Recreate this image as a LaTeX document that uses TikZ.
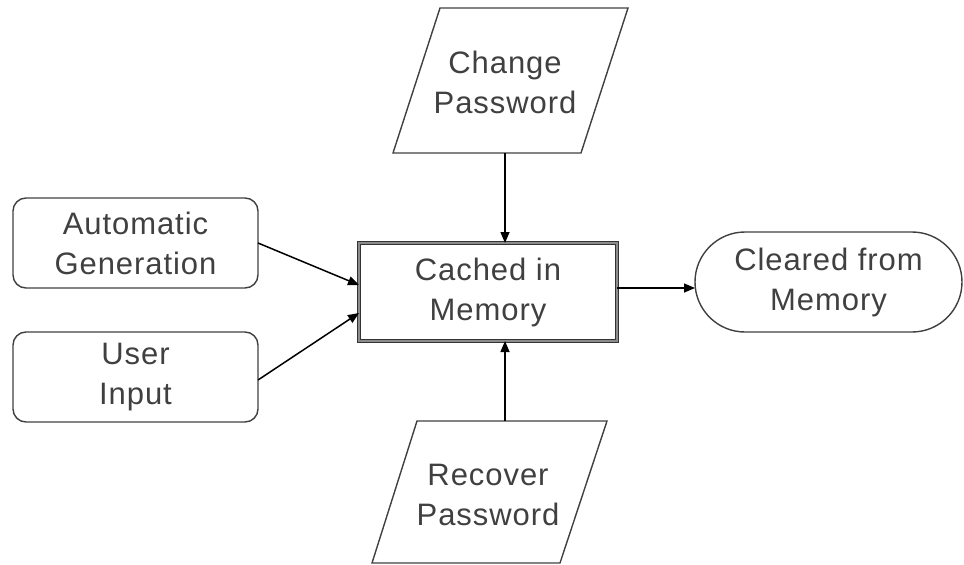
\documentclass[tikz,border=0pt]{standalone}
\usepackage{fontspec}
\setmainfont{Liberation Sans}[LetterSpace=3]
\usetikzlibrary{arrows.meta,calc}
\tikzset{
  lbl/.style={font=\fontsize{31}{40}\selectfont, align=center, text=black!75},
  frame/.style={draw=black!75, line width=1.4pt},
  region/.style={inner sep=0pt, outer sep=0pt},
  arr/.style={draw=black, line width=1.5pt, -{Triangle[length=11pt,width=9pt]}}
}
\begin{document}
\begin{tikzpicture}[x=1pt,y=-1pt]
\useasboundingbox (0,0) rectangle (964,565);

% input boxes on the left
\node[region, frame, rounded corners=13pt, minimum width=245pt, minimum height=90pt, lbl]
  (auto) at (135.5,243) {Automatic\\Generation};
\node[region, frame, rounded corners=13pt, minimum width=245pt, minimum height=90pt, lbl]
  (user) at (135.5,377) {User\\Input};

% central state with a double border
\node[region, draw=black!80, line width=0.9pt, double=black!45, double distance=2.6pt,
      minimum width=258pt, minimum height=98pt, fill=white]
  (cache) at (488,292) {};
\node[lbl] (cachetxt) at (488,292) {Cached in\\Memory};

% terminal state on the right
\node[region, frame, rounded corners=50pt, minimum width=267pt, minimum height=100pt, lbl]
  (clear) at (828.5,282) {Cleared from\\Memory};

% parallelogram events above and below
\node[region, minimum width=235pt, minimum height=145pt] (chg) at (510.5,80.5) {};
\draw[frame] ($(chg.north west)+(47,0)$) -- (chg.north east)
  -- ($(chg.south east)+(-47,0)$) -- (chg.south west) -- cycle;
\node[lbl] (chgtxt) at (505,82) {Change\\Password};

\node[region, minimum width=235pt, minimum height=142pt] (rec) at (489.5,492) {};
\draw[frame] ($(rec.north west)+(45,0)$) -- (rec.north east)
  -- ($(rec.south east)+(-47,0)$) -- (rec.south west) -- cycle;
\node[lbl] (rectxt) at (488,495) {Recover\\Password};

% connectors
\draw[arr] ([xshift=-5.5pt]chg.south) -- ([xshift=-5.5pt]chg.south |- cache.north);
\draw[arr] ([xshift=15.5pt]rec.north) -- ([xshift=15.5pt]rec.north |- cache.south);
\draw[arr] (auto.east) -- ([yshift=7pt]cache.west);
\draw[arr] ([yshift=-3pt]user.east) -- ([yshift=-21pt]cache.west);
\draw[arr] ([yshift=4pt]cache.east) -- ([yshift=-6pt]clear.west);
\end{tikzpicture}
\end{document}
